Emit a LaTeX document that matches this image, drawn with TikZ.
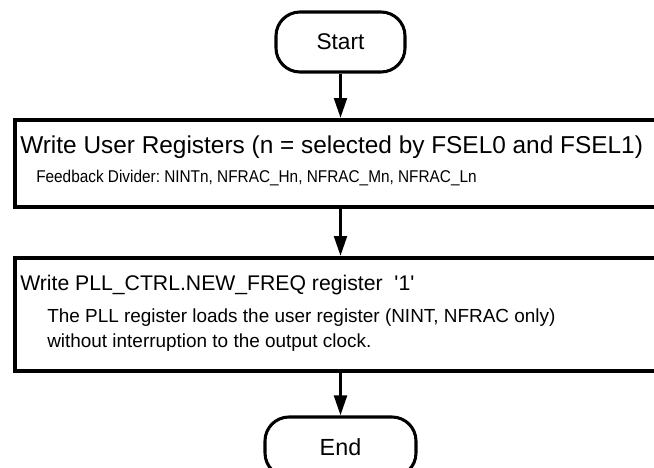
\documentclass[tikz,border=0pt]{standalone}
\usepackage{fontspec}
\setmainfont{Liberation Sans}
\newfontfamily\narrowfont{Liberation Sans}[FakeStretch=0.9]
\usetikzlibrary{arrows.meta}
\frenchspacing
\begin{document}
\begin{tikzpicture}[x=0.75pt,y=-0.75pt,
  term/.style={draw, line width=2.3pt, rounded corners=18pt, minimum height=45pt, inner sep=0pt},
  stepbox/.style={draw, line width=3pt, anchor=north west, inner sep=0pt, minimum width=485pt},
  txt/.style={anchor=base west, inner sep=0pt},
  arr/.style={line width=2.3pt, -{Triangle[length=15pt, width=9.5pt]}}]
\useasboundingbox (0,0) rectangle (654,468);
\node[term, minimum width=96.75pt, font=\fontsize{17}{20}\selectfont] (s) at (340.5,42) {Start};
\node[stepbox, minimum height=65pt] (b1) at (13,118) {};
\node[txt, font=\fontsize{18.3}{22}\selectfont] (t1) at (20,153) {Write User Registers (n = selected by FSEL0 and FSEL1)};
\node[txt, font=\narrowfont\fontsize{12.8}{15}\selectfont] (d1) at (36,182) {Feedback Divider: NINTn, NFRAC\_Hn, NFRAC\_Mn, NFRAC\_Ln};
\node[stepbox, minimum height=84.75pt] (b2) at (13,256) {};
\node[txt, font=\fontsize{15.9}{19}\selectfont] (t2) at (20,290) {Write PLL\_CTRL.NEW\_FREQ register\ \ \textquotesingle 1\textquotesingle};
\node[txt, font=\fontsize{14.2}{17}\selectfont] (d2) at (47,322) {The PLL register loads the user register (NINT, NFRAC only)};
\node[txt, font=\fontsize{14.2}{17}\selectfont] (d3) at (47,347) {without interruption to the output clock.};
\node[term, minimum width=113.25pt, font=\fontsize{17.5}{20}\selectfont] (e) at (340.5,447) {End};
\draw[arr] (s.south) -- (s.south |- b1.north);
\draw[arr] (s.south |- b1.south) -- (s.south |- b2.north);
\draw[arr] (s.south |- b2.south) -- (e.north);
\end{tikzpicture}
\end{document}
